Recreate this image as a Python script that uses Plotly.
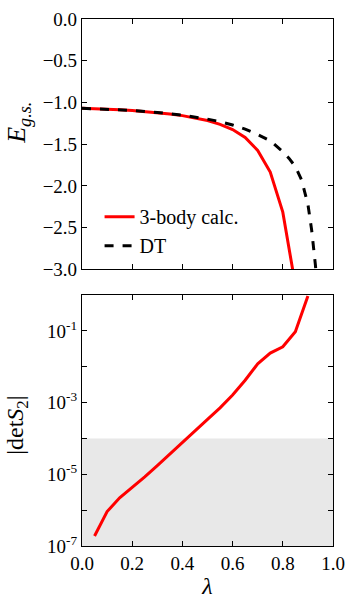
import plotly.graph_objects as go

# ground-state energy, 3-body calculation
lam_3body = [0.0, 0.05, 0.1, 0.15, 0.2, 0.25, 0.3, 0.35, 0.4, 0.45,
             0.5, 0.55, 0.6, 0.65, 0.7, 0.75, 0.8, 0.85]
E_3body = [-1.070, -1.074, -1.080, -1.087, -1.096, -1.107, -1.121, -1.138, -1.158, -1.184,
           -1.217, -1.262, -1.325, -1.420, -1.575, -1.835, -2.315, -3.19]

# ground-state energy, DT
lam_dt = [0.0, 0.1, 0.2, 0.3, 0.4, 0.5, 0.55, 0.6, 0.65, 0.7,
          0.75, 0.8, 0.825, 0.85, 0.875, 0.9, 0.915, 0.93, 0.94]
E_dt = [-1.070, -1.080, -1.096, -1.120, -1.152, -1.20, -1.23, -1.27, -1.32, -1.385,
        -1.46, -1.59, -1.67, -1.77, -1.93, -2.22, -2.53, -2.95, -3.3]

# |det S2|
lam_det = [0.05, 0.1, 0.15, 0.2, 0.25, 0.3, 0.35, 0.4, 0.45,
           0.5, 0.55, 0.6, 0.65, 0.7, 0.75, 0.8, 0.85, 0.9]
det_S2 = [1.9e-7, 9.1e-7, 2.2e-6, 4.2e-6, 8.5e-6, 1.74e-5, 3.6e-5, 7.9e-5, 1.62e-4,
          3.4e-4, 7.1e-4, 1.62e-3, 4.2e-3, 1.2e-2, 2.4e-2, 3.6e-2, 9.5e-2, 0.93]

det_threshold = 1e-4
log_ticks = [1e-7, 1e-6, 1e-5, 1e-4, 1e-3, 1e-2, 1e-1, 1e0]
log_labels = ["10<sup>-7</sup>", "", "10<sup>-5</sup>", "", "10<sup>-3</sup>", "",
              "10<sup>-1</sup>", ""]

FONT = "Liberation Serif"
RED = "#FF0000"

fig = go.Figure()
fig.add_trace(go.Scatter(x=lam_3body, y=E_3body, mode="lines", name="3-body calc.",
                         line=dict(color=RED, width=3), xaxis="x", yaxis="y"))
fig.add_trace(go.Scatter(x=lam_dt, y=E_dt, mode="lines", name="DT",
                         line=dict(color="black", width=3, dash="dash"), xaxis="x", yaxis="y"))
fig.add_trace(go.Scatter(x=lam_det, y=det_S2, mode="lines", showlegend=False,
                         line=dict(color=RED, width=3), xaxis="x2", yaxis="y2"))

fig.add_shape(type="rect", xref="x2", yref="y2", x0=0, x1=1, y0=log_ticks[0], y1=det_threshold,
              fillcolor="#E8E8E8", line=dict(width=0), layer="below")

# y-axis titles as rotated annotations so they can be placed freely
fig.add_annotation(text="<i>E</i><sub><i>g.s.</i></sub>", xref="paper", yref="paper",
                   x=-0.255, y=0.803, xanchor="center", yanchor="middle",
                   textangle=-90, showarrow=False, font=dict(family=FONT, size=26))
fig.add_annotation(text="|det<i>S</i><sub>2</sub>|", xref="paper", yref="paper",
                   x=-0.259, y=0.23, xanchor="center", yanchor="middle",
                   textangle=-90, showarrow=False, font=dict(family=FONT, size=24))

axis_style = dict(showline=True, linecolor="black", linewidth=1.2, mirror="allticks",
                  ticks="inside", ticklen=5, tickwidth=1, tickcolor="black", automargin=False,
                  showgrid=False, zeroline=False, tickfont=dict(family=FONT, size=19, color="black"))

fig.update_layout(
    width=354, height=607,
    margin=dict(l=82, r=21, t=19, b=61, autoexpand=False),
    plot_bgcolor="white", paper_bgcolor="white",
    font=dict(family=FONT, size=19, color="black"),
    xaxis=dict(domain=[0, 1], range=[0, 1], dtick=0.2, showticklabels=False, anchor="y", **axis_style),
    yaxis=dict(domain=[0.525, 1], range=[-3, 0], dtick=0.5, tickformat=".1f", anchor="x", **axis_style),
    xaxis2=dict(domain=[0, 1], range=[0, 1], dtick=0.2, tickformat=".1f", anchor="y2",
                title=dict(text="<i>λ</i>", font=dict(family=FONT, size=24), standoff=4),
                **axis_style),
    yaxis2=dict(domain=[0, 0.4763], type="log", range=[-7, 0], tickvals=log_ticks, ticktext=log_labels,
                anchor="x2", **axis_style),
    legend=dict(x=0.07, y=0.662, xanchor="left", yanchor="top", bgcolor="rgba(0,0,0,0)",
                font=dict(family=FONT, size=20)),
)

fig.write_html("out.html", config={"displayModeBar": False},
               post_script="document.body.style.margin='0';")
